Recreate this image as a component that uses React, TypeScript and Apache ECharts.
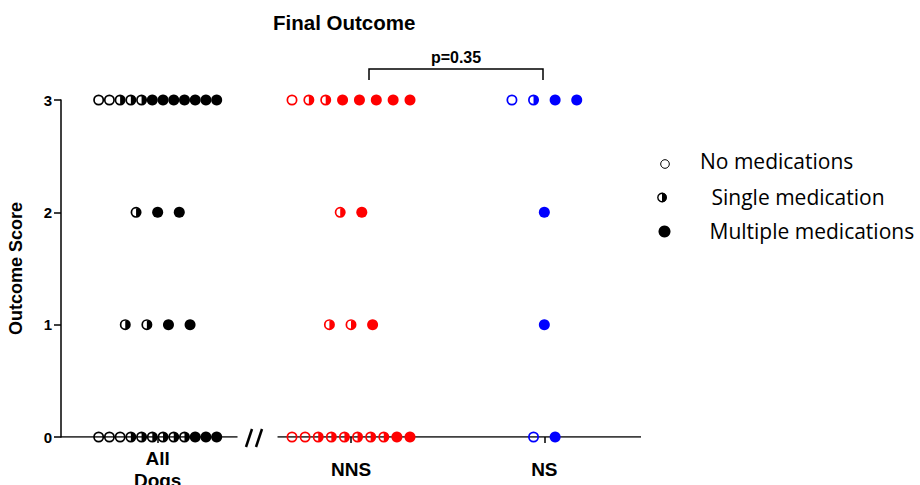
import React, { useEffect, useRef } from "react";
import * as echarts from "echarts";

// ---- data ----
const groupLabels = ["All\nDogs", "NNS", "NS"];
const groupColors = ["#000000", "#ff0000", "#0000ff"];
const medTypes = ["No medications", "Single medication", "Multiple medications"];
const yTicks = [0, 1, 2, 3];
// counts per score (index = score 0..3): [no meds, single med, multiple meds]
const allDogsCounts = [
  [3, 6, 3],
  [0, 2, 2],
  [0, 1, 2],
  [2, 3, 7],
];
const nnsCounts = [
  [2, 6, 2],
  [0, 2, 1],
  [0, 1, 1],
  [1, 2, 5],
];
const nsCounts = [
  [1, 0, 1],
  [0, 0, 1],
  [0, 0, 1],
  [1, 1, 2],
];
const chartTitle = "Final Outcome";
const pText = "p=0.35";
const yName = "Outcome Score";

const FONT = "'Liberation Sans', Arial, sans-serif";
const LEGEND_FONT = "'Open Sans', sans-serif";

const RING =
  "path://M10 0A10 10 0 1 1 10 20A10 10 0 1 1 10 0ZM10 3.1A6.9 6.9 0 1 0 10 16.9A6.9 6.9 0 1 0 10 3.1Z";
const HALF =
  "path://M10 0A10 10 0 1 1 10 20A10 10 0 1 1 10 0ZM10 3.1A6.9 6.9 0 1 0 10 16.9A6.9 6.9 0 1 0 10 3.1ZM10 0A10 10 0 0 1 10 20Z";

export default function App() {
  const ref = useRef<HTMLDivElement>(null);

  useEffect(() => {
    if (!ref.current) return;
    document.body.style.margin = "0";
    const chart = echarts.init(ref.current, undefined, { renderer: "svg" });

    const gridLeft = 61;
    const gridRight = 279;
    const gridWidth = 920 - gridLeft - gridRight;
    const xMin = -0.5;
    const xMax = 2.5;
    const unitPx = gridWidth / (xMax - xMin);
    const maxStepPx = 21.6;
    const maxSpanPx = 118;

    const countsByGroup = [allDogsCounts, nnsCounts, nsCounts];
    const seriesData: any[][] = [[], [], []];
    countsByGroup.forEach((rows, g) => {
      rows.forEach((counts, score) => {
        const seq: number[] = [];
        counts.forEach((c, t) => {
          for (let i = 0; i < c; i++) seq.push(t);
        });
        const n = seq.length;
        const step = n > 1 ? Math.min(maxStepPx, maxSpanPx / (n - 1)) : 0;
        seq.forEach((t, i) => {
          const off = ((i - (n - 1) / 2) * step) / unitPx;
          seriesData[t].push({
            value: [g + off, score],
            itemStyle: { color: groupColors[g], opacity: 1 },
          });
        });
      });
    });

    const symbols = [RING, HALF, "circle"];
    const sizes = [11, 11, 11];

    const axisSeg = (a: number, b: number) => ({
      type: "line",
      data: [
        [a, 0],
        [b, 0],
      ],
      symbol: "none",
      lineStyle: { color: "#000", width: 1.5 },
      z: 1,
      silent: true,
    });

    chart.setOption({
      animation: false,
      backgroundColor: "#ffffff",
      title: {
        text: chartTitle,
        left: 268,
        top: 7,
        textStyle: { fontFamily: FONT, fontWeight: "bold", fontSize: 20.5, color: "#000" },
      },
      grid: { left: gridLeft, right: gridRight, top: 100, bottom: 48, outerBoundsMode: "none" },
      xAxis: {
        type: "value",
        min: xMin,
        max: xMax,
        axisLine: { show: false },
        splitLine: { show: false },
        axisTick: {
          show: true,
          customValues: [0, 1, 2],
          length: 6,
          lineStyle: { color: "#000", width: 1.5 },
        },
        axisLabel: {
          customValues: [0, 1, 2],
          formatter: (v: number) => groupLabels[Math.round(v)] ?? "",
          fontFamily: FONT,
          fontWeight: "bold",
          fontSize: 19,
          color: "#000",
          lineHeight: 22,
          verticalAlign: "middle",
          margin: 32,
        },
      },
      yAxis: {
        type: "value",
        min: 0,
        max: 3,
        interval: 1,
        name: yName,
        nameLocation: "middle",
        nameGap: 36,
        nameTextStyle: { fontFamily: FONT, fontWeight: "bold", fontSize: 18, color: "#000" },
        axisLine: { show: true, onZero: false, lineStyle: { color: "#000", width: 1.5 } },
        axisTick: { show: true, length: 7, lineStyle: { color: "#000", width: 1.5 } },
        splitLine: { show: false },
        axisLabel: {
          formatter: (v: number) => (yTicks.includes(v) ? String(v) : ""),
          fontFamily: FONT,
          fontWeight: "bold",
          fontSize: 15,
          color: "#000",
          margin: 9,
        },
      },
      series: [
        axisSeg(xMin, 0.413),
        axisSeg(0.62, xMax),
        ...medTypes.map((name, t) => ({
          name,
          type: "scatter",
          symbol: symbols[t],
          symbolSize: sizes[t],
          itemStyle: { opacity: 1 },
          data: seriesData[t],
          z: 3,
        })),
      ],
      graphic: [
        // axis break marks
        { type: "line", shape: { x1: 246, y1: 447, x2: 252, y2: 429 }, style: { stroke: "#000", lineWidth: 2.5 } },
        { type: "line", shape: { x1: 256, y1: 447, x2: 262, y2: 429 }, style: { stroke: "#000", lineWidth: 2.5 } },
        // significance bracket
        {
          type: "polyline",
          shape: { points: [[369, 80], [369, 69], [543, 69], [543, 80]] },
          style: { stroke: "#000", lineWidth: 1.5, fill: null },
        },
        {
          type: "text",
          x: 456,
          y: 57,
          style: {
            text: pText,
            textAlign: "center",
            textVerticalAlign: "middle",
            fontFamily: FONT,
            fontWeight: "bold",
            fontSize: 16,
            fill: "#000",
          },
        },
        // legend markers
        { type: "circle", shape: { cx: 665, cy: 164, r: 4.3 }, style: { stroke: "#000", lineWidth: 1, fill: "none" } },
        { type: "sector", shape: { cx: 662, cy: 197.5, r: 4.8, r0: 0, startAngle: -Math.PI / 2, endAngle: Math.PI / 2, clockwise: true }, style: { fill: "#000" } },
        { type: "circle", shape: { cx: 662, cy: 197.5, r: 4.2 }, style: { stroke: "#000", lineWidth: 1.4, fill: "none" } },
        { type: "circle", shape: { cx: 664.5, cy: 231.5, r: 6 }, style: { fill: "#000" } },
        // legend texts
        ...[
          { x: 700, y: 160.5 },
          { x: 711.5, y: 196.5 },
          { x: 709.5, y: 230.5 },
        ].map((p, i) => ({
          type: "text",
          x: p.x,
          y: p.y,
          style: {
            text: medTypes[i],
            textAlign: "left",
            textVerticalAlign: "middle",
            fontFamily: LEGEND_FONT,
            fontSize: 21,
            fill: "#000",
          },
        })),
      ],
    });

    return () => chart.dispose();
  }, []);

  return <div ref={ref} style={{ width: 920, height: 485 }} />;
}
